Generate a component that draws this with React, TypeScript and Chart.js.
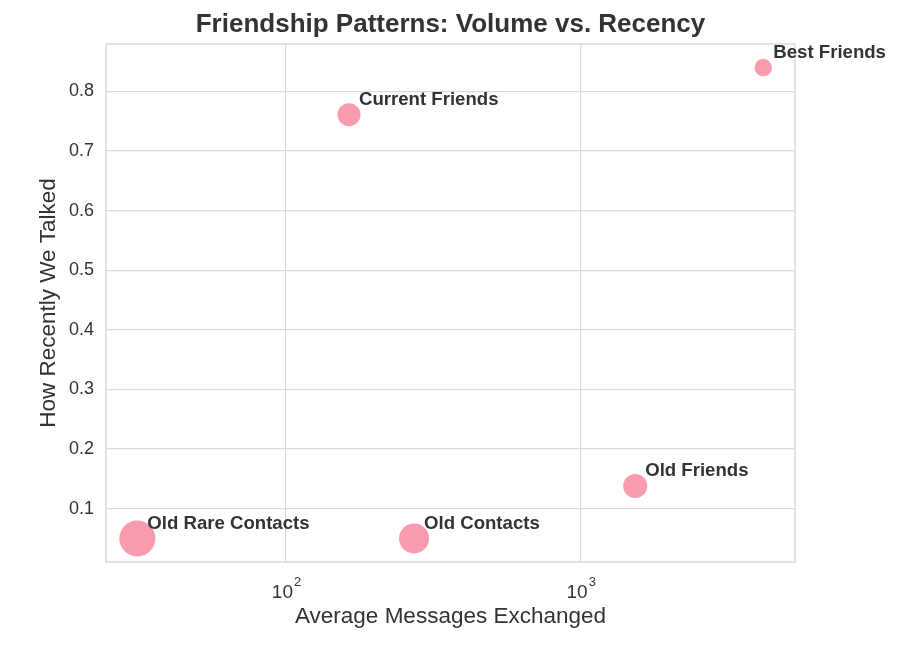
import React, { useEffect, useRef } from "react";
import { Chart, registerables } from "chart.js";

Chart.register(...registerables);

const categories = ["Best Friends", "Current Friends", "Old Friends", "Old Contacts", "Old Rare Contacts"];
const avgMessages = [4166, 163.6, 1531, 272, 31.3];
const recency = [0.84, 0.761, 0.138, 0.05, 0.05];
const bubbleRadius = [8.7, 11.5, 12, 15, 18];
const yTicks = [0.1, 0.2, 0.3, 0.4, 0.5, 0.6, 0.7, 0.8];
const xTicks = [100, 1000];
const xTickBase = ["10", "10"];
const xTickExp = ["2", "3"];

const TITLE = "Friendship Patterns: Volume vs. Recency";
const X_LABEL = "Average Messages Exchanged";
const Y_LABEL = "How Recently We Talked";
const FONT = "'Liberation Sans', Arial, sans-serif";
const TEXT = "#333333";
const GRID = "#dadada";

export default function App() {
  const ref = useRef<HTMLCanvasElement>(null);

  useEffect(() => {
    document.body.style.margin = "0";
    const canvas = ref.current;
    if (!canvas) return;

    const overlay = {
      id: "overlay",
      afterDatasetsDraw(chart: any) {
        const ctx = chart.ctx;
        const area = chart.chartArea;
        const xs = chart.scales.x;
        const ys = chart.scales.y;
        ctx.save();
        ctx.strokeStyle = GRID;
        ctx.lineWidth = 1.5;
        ctx.strokeRect(area.left, area.top, area.right - area.left, area.bottom - area.top);
        ctx.fillStyle = TEXT;
        ctx.font = `bold 18.6px ${FONT}`;
        ctx.textAlign = "left";
        ctx.textBaseline = "middle";
        categories.forEach((c, i) => {
          const px = xs.getPixelForValue(avgMessages[i]);
          const py = ys.getPixelForValue(recency[i]);
          ctx.fillText(c, px + 10, py - 15);
        });
        ctx.restore();
      },
      afterDraw(chart: any) {
        const ctx = chart.ctx;
        const area = chart.chartArea;
        const xs = chart.scales.x;
        const cx = (area.left + area.right) / 2;
        ctx.save();
        ctx.fillStyle = TEXT;
        ctx.font = `bold 26px ${FONT}`;
        ctx.textAlign = "center";
        ctx.textBaseline = "middle";
        ctx.fillText(TITLE, cx, 25);
        ctx.font = `22.5px ${FONT}`;
        ctx.fillText(X_LABEL, cx, 617);
        ctx.save();
        ctx.translate(49, (area.top + area.bottom) / 2);
        ctx.rotate(-Math.PI / 2);
        ctx.fillText(Y_LABEL, 0, 0);
        ctx.restore();
        xTicks.forEach((v, i) => {
          const px = xs.getPixelForValue(v);
          ctx.font = `19px ${FONT}`;
          const wb = ctx.measureText(xTickBase[i]).width;
          ctx.font = `13px ${FONT}`;
          const we = ctx.measureText(xTickExp[i]).width;
          const start = px - (wb + we) / 2;
          ctx.textAlign = "left";
          ctx.textBaseline = "alphabetic";
          ctx.font = `19px ${FONT}`;
          ctx.fillText(xTickBase[i], start, 598);
          ctx.font = `13px ${FONT}`;
          ctx.fillText(xTickExp[i], start + wb + 1, 586);
        });
        ctx.restore();
      },
    };

    const chart = new Chart(canvas, {
      type: "bubble",
      data: {
        datasets: [
          {
            data: categories.map((_, i) => ({ x: avgMessages[i], y: recency[i], r: bubbleRadius[i] })),
            backgroundColor: "rgba(247, 113, 137, 0.7)",
            borderWidth: 0,
          },
        ],
      },
      options: {
        responsive: false,
        animation: false,
        events: [],
        layout: { padding: { top: 44, right: 105, left: 0, bottom: 0 } },
        plugins: {
          legend: { display: false },
          tooltip: { enabled: false },
          title: { display: false },
        },
        scales: {
          x: {
            type: "logarithmic",
            min: 24.5,
            max: 5336,
            afterBuildTicks: (scale: any) => {
              scale.ticks = xTicks.map((v) => ({ value: v }));
            },
            afterFit: (scale: any) => {
              scale.height = 103;
            },
            ticks: { display: false },
            grid: { color: GRID, lineWidth: 1.2, drawTicks: false },
            border: { display: false },
          },
          y: {
            type: "linear",
            min: 0.0105,
            max: 0.8795,
            afterBuildTicks: (scale: any) => {
              scale.ticks = yTicks.map((v) => ({ value: v }));
            },
            afterFit: (scale: any) => {
              scale.width = 106;
            },
            ticks: {
              padding: 12,
              color: TEXT,
              font: { size: 18, family: FONT },
              callback: (v: any) => Number(v).toFixed(1),
            },
            grid: { color: GRID, lineWidth: 1.2, drawTicks: false },
            border: { display: false },
          },
        },
      },
      plugins: [overlay],
    });

    return () => chart.destroy();
  }, []);

  return (
    <div style={{ position: "absolute", left: 0, top: 0, width: 900, height: 665, background: "#fff" }}>
      <canvas ref={ref} width={900} height={665} />
    </div>
  );
}
